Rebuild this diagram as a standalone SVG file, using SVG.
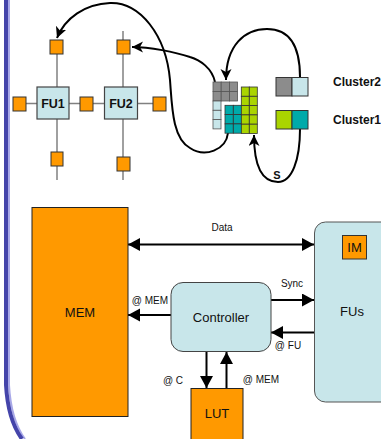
<svg xmlns="http://www.w3.org/2000/svg" width="381" height="439" viewBox="0 0 381 439">
<defs>
<marker id="tri" markerUnits="userSpaceOnUse" markerWidth="14" markerHeight="14" refX="12" refY="6.5" orient="auto"><path d="M0,0 L12,6.5 L0,13 z" fill="#000"/></marker>
<marker id="notch" markerUnits="userSpaceOnUse" markerWidth="14" markerHeight="14" refX="11" refY="5.5" orient="auto"><path d="M0,0 L11,5.5 L0,11 L3,5.5 z" fill="#000"/></marker>
<style>
text{font-family:"Liberation Sans",Arial,sans-serif;fill:#111}
.b{font-weight:bold}
.c{text-anchor:middle}
.port{fill:#ff9900;stroke:#333;stroke-width:1}
.fu{fill:#c8e6ea;stroke:#444;stroke-width:1.2}
.grid{stroke:#808080;stroke-width:1.5;fill:none}
.arr{stroke:#000;stroke-width:2;fill:none}
.gray{fill:#8c8c8c;stroke:#555;stroke-width:0.8}
.lb{fill:#c8e6ea;stroke:#555;stroke-width:0.8}
.teal{fill:#00aaaa;stroke:#333;stroke-width:0.8}
.green{fill:#aad400;stroke:#333;stroke-width:0.8}
</style>
</defs>
<g id="border">
<path d="M9,0 V385 Q11,420 25,439" fill="none" stroke="#a8a8e8" stroke-width="2"/>
<path d="M6,0 V385 Q8,420 22,439" fill="none" stroke="#4444aa" stroke-width="4"/>
</g>
<g id="connectors">
<line class="grid" x1="57" y1="40" x2="57" y2="180"/>
<line class="grid" x1="123" y1="31" x2="123" y2="180"/>
<line class="grid" x1="13" y1="103.5" x2="166" y2="103.5"/>
<path class="arr" d="M228,133 C226,150 205,158 190,148 C172,138 172,105 170,80 C166,35 140,2 110,3 C85,4 65,18 57,38" marker-end="url(#notch)"/>
<path class="arr" d="M215,82 C212,68 200,60 190,57 C175,52 150,47 132,47" marker-end="url(#notch)"/>
<path class="arr" d="M300,77 C300,40 285,29 267,29 C245,29 226,45 226,80" marker-end="url(#notch)"/>
<path class="arr" d="M300,129 C300,160 292,182 278,182 C262,182 254,165 254,135" marker-end="url(#notch)"/>
<line class="arr" x1="300" y1="244.5" x2="314" y2="244.5" marker-end="url(#tri)"/>
<line class="arr" x1="142" y1="244.5" x2="128" y2="244.5" marker-end="url(#tri)"/>
<line class="arr" x1="142" y1="244.5" x2="300" y2="244.5"/>
<line class="arr" x1="171" y1="315" x2="128" y2="315" marker-end="url(#tri)"/>
<line class="arr" x1="271" y1="300" x2="314" y2="300" marker-end="url(#tri)"/>
<line class="arr" x1="314" y1="332.5" x2="271" y2="332.5" marker-end="url(#tri)"/>
<line class="arr" x1="206.5" y1="352" x2="206.5" y2="388" marker-end="url(#tri)"/>
<line class="arr" x1="226.5" y1="388" x2="226.5" y2="352" marker-end="url(#tri)"/>
</g>
<g id="ports">
<rect class="port" x="50" y="40" width="13" height="14"/>
<rect class="port" x="13" y="97" width="13" height="14"/>
<rect class="port" x="80" y="97" width="13" height="14"/>
<rect class="port" x="153" y="97" width="13" height="14"/>
<rect class="port" x="51" y="152" width="12" height="14"/>
<rect class="port" x="117" y="40" width="13" height="14"/>
<rect class="port" x="117" y="157" width="13" height="14"/>
</g>
<g id="fu1"><rect class="fu" x="37" y="87" width="32" height="32"/><text class="b c" x="53" y="107.5" font-size="12.5">FU1</text></g>
<g id="fu2"><rect class="fu" x="104.5" y="87" width="33" height="32"/><text class="b c" x="121" y="107.5" font-size="12.5">FU2</text></g>
<g id="cluster-grid">
<rect class="gray" x="213" y="82" width="8.2" height="9.5"/><rect class="gray" x="221.2" y="82" width="8.2" height="9.5"/><rect class="gray" x="229.4" y="82" width="8.2" height="9.5"/>
<rect class="gray" x="213" y="91.5" width="8.2" height="9.5"/><rect class="gray" x="221.2" y="91.5" width="8.2" height="9.5"/><rect class="gray" x="229.4" y="91.5" width="8.2" height="9.5"/>
<rect class="lb" x="213" y="101" width="8" height="9.3"/><rect class="lb" x="213" y="110.3" width="8" height="9.3"/><rect class="lb" x="213" y="119.6" width="8" height="9.3"/>
<rect class="teal" x="225" y="105.3" width="8.3" height="9.3"/><rect class="teal" x="233.3" y="105.3" width="8.3" height="9.3"/>
<rect class="teal" x="225" y="114.6" width="8.3" height="9.3"/><rect class="teal" x="233.3" y="114.6" width="8.3" height="9.3"/>
<rect class="teal" x="225" y="123.9" width="8.3" height="9.3"/><rect class="teal" x="233.3" y="123.9" width="8.3" height="9.3"/>
<rect class="green" x="241.3" y="87" width="8" height="9.3"/><rect class="green" x="249.3" y="87" width="8" height="9.3"/>
<rect class="green" x="241.3" y="96.3" width="8" height="9.3"/><rect class="green" x="249.3" y="96.3" width="8" height="9.3"/>
<rect class="green" x="241.3" y="105.6" width="8" height="9.3"/><rect class="green" x="249.3" y="105.6" width="8" height="9.3"/>
<rect class="green" x="241.3" y="114.9" width="8" height="9.3"/><rect class="green" x="249.3" y="114.9" width="8" height="9.3"/>
<rect class="green" x="241.3" y="124.2" width="8" height="9.3"/><rect class="green" x="249.3" y="124.2" width="8" height="9.3"/>
</g>
<g id="cluster2"><rect x="276" y="77.5" width="16" height="18.5" fill="#8c8c8c" stroke="#333"/><rect x="292" y="77.5" width="16" height="18.5" fill="#c8e6ea" stroke="#333"/><text class="b" x="333" y="85.5" font-size="12">Cluster2</text></g>
<g id="cluster1"><rect x="276" y="110.5" width="16" height="18.5" fill="#aad400" stroke="#333"/><rect x="292" y="110.5" width="16" height="18.5" fill="#00aaaa" stroke="#333"/><text class="b" x="333" y="123.5" font-size="12">Cluster1</text></g>
<text class="b c" x="277" y="179" font-size="11">S</text>
<g id="mem"><rect x="32" y="207.5" width="96" height="209" fill="#ff9900" stroke="#222"/><text class="c" x="80" y="317" font-size="13">MEM</text></g>
<g id="controller"><rect x="171" y="282.5" width="100" height="69" rx="12" fill="#c8e6ea" stroke="#444"/><text class="c" x="221" y="321.5" font-size="13">Controller</text></g>
<g id="fus"><rect x="314.5" y="222" width="80" height="180" rx="11" fill="#c8e6ea" stroke="#555"/><text class="c" x="352" y="316" font-size="13">FUs</text>
<g id="im"><rect x="342.5" y="235.5" width="24" height="23.5" fill="#ff9900" stroke="#333"/><text class="c" x="354.5" y="252" font-size="13">IM</text></g></g>
<g id="lut"><rect x="191" y="388.5" width="52" height="60" fill="#ff9900" stroke="#222"/><text class="c" x="217" y="418" font-size="13">LUT</text></g>
<g id="labels" font-size="10">
<text class="c" x="222" y="230.5">Data</text>
<text class="c" x="150" y="303.5">@ MEM</text>
<text class="c" x="292" y="286.5">Sync</text>
<text class="c" x="288" y="349">@ FU</text>
<text class="c" x="173" y="383.5">@ C</text>
<text class="c" x="261" y="383">@ MEM</text>
</g>
</svg>
